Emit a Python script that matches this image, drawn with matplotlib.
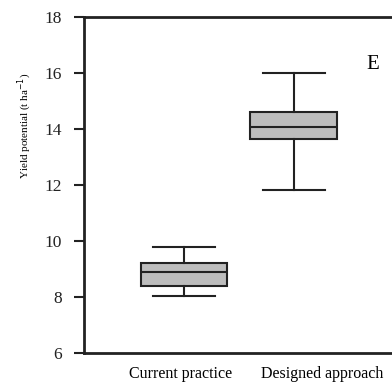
import matplotlib
matplotlib.use('Agg')
import matplotlib.pyplot as plt

plt.rcParams['font.family'] = ['Liberation Serif', 'DejaVu Serif']

groups = ['Current practice', 'Designed approach']
# whisker low, q1, median, q3, whisker high (t ha-1)
whislo = [8.04, 11.82]
q1 = [8.39, 13.65]
med = [8.88, 14.06]
q3 = [9.20, 14.60]
whishi = [9.80, 15.99]

stats = []
for i in range(len(groups)):
    stats.append({'whislo': whislo[i], 'q1': q1[i], 'med': med[i],
                  'q3': q3[i], 'whishi': whishi[i], 'fliers': []})

fig = plt.figure(figsize=(3.92, 3.89), dpi=100)
ax = fig.add_axes([84/392, 1-353/389, 1-84/392+0.01, (353-17)/389])

lw = 1.5
ec = '#222222'
ax.bxp(stats, positions=[1, 2], widths=0.79, patch_artist=True,
       showfliers=False,
       boxprops=dict(facecolor='#bdbdbd', edgecolor=ec, linewidth=lw),
       medianprops=dict(color=ec, linewidth=lw),
       whiskerprops=dict(color=ec, linewidth=lw),
       capprops=dict(color=ec, linewidth=lw),
       capwidths=0.56)

ax.set_xlim(0.09, 2.93)
ax.set_ylim(6, 18)
ax.set_yticks([6, 8, 10, 12, 14, 16, 18])
ax.tick_params(axis='y', direction='out', length=7, width=1.5,
               labelsize=12.5, pad=9, colors='#222222')
ax.set_xticks([0.97, 2.26])
ax.set_xticklabels(groups, fontsize=11.5)
ax.tick_params(axis='x', length=0, pad=9)

for s in ['left', 'top', 'bottom']:
    ax.spines[s].set_linewidth(2)
    ax.spines[s].set_color('#222222')
ax.spines['right'].set_visible(False)

ax.set_ylabel('Yield potential (t ha$^{-1}$)', fontsize=8)
ax.yaxis.set_label_coords(-0.16, 0.676)

ax.text(2.72, 16.3, 'E', fontsize=15, ha='center', va='center')

fig.savefig('out.png', dpi=100)
